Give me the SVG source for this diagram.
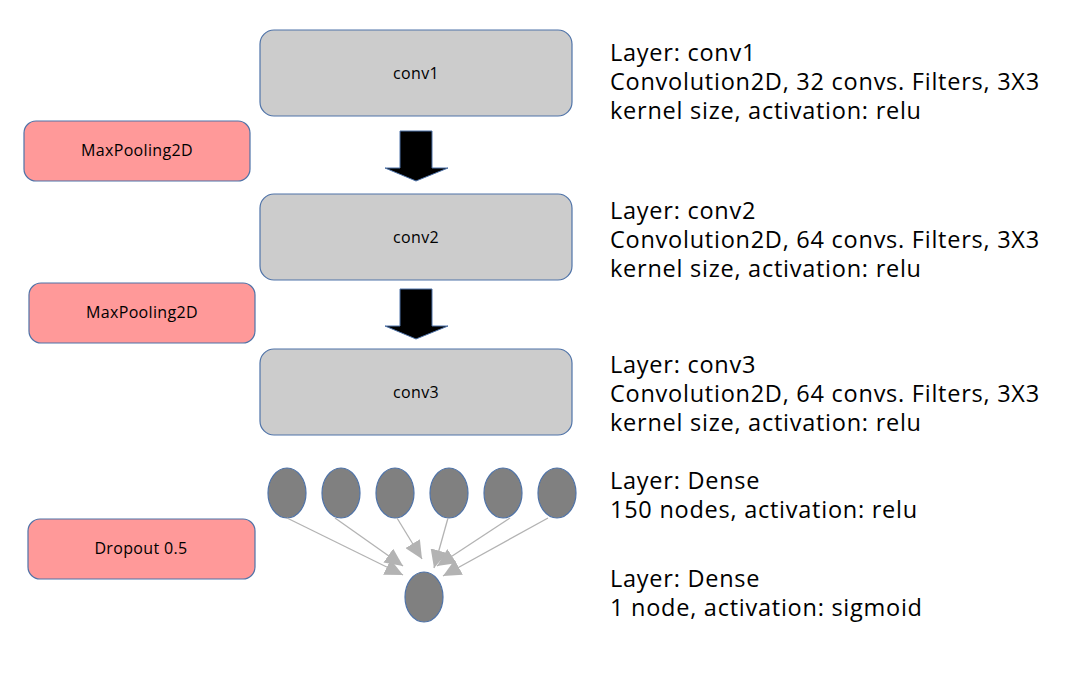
<svg xmlns="http://www.w3.org/2000/svg" width="1087" height="682" viewBox="0 0 1087 682">
<defs>
<style>
.conv{fill:#cccccc;stroke:#4f73a8;stroke-width:1.2}
.op{fill:#ff9999;stroke:#4f73a8;stroke-width:1.2}
.lbl{font-family:"Open Sans","Noto Sans",sans-serif;font-size:16px;letter-spacing:0.35px;fill:#000;text-anchor:middle}
.desc{font-family:"Open Sans","Noto Sans",sans-serif;font-size:23.5px;letter-spacing:0.75px;fill:#000}
.neuron{fill:#808080;stroke:#4f73a8;stroke-width:1.2}
.edge{stroke:#b3b3b3;stroke-width:1.3;fill:none;marker-end:url(#ah)}
.bigarrow{fill:#000;stroke:#4f73a8;stroke-width:1}
</style>
<marker id="ah" viewBox="0 0 10 10" refX="10" refY="5" markerWidth="18" markerHeight="17" markerUnits="userSpaceOnUse" orient="auto" preserveAspectRatio="none">
<path d="M0,0 L10,5 L0,10 z" fill="#b3b3b3"/>
</marker>
</defs>
<rect width="1087" height="682" fill="#fff"/>
<g id="conv1"><rect class="conv" x="260" y="30" width="312" height="86" rx="14"/><text class="lbl" x="416" y="79">conv1</text></g>
<g id="conv2"><rect class="conv" x="260" y="194" width="312" height="86" rx="14"/><text class="lbl" x="416" y="243">conv2</text></g>
<g id="conv3"><rect class="conv" x="260" y="349" width="312" height="86" rx="14"/><text class="lbl" x="416" y="398">conv3</text></g>
<g id="maxpool1"><rect class="op" x="24" y="121" width="226" height="60" rx="12"/><text class="lbl" x="137" y="156">MaxPooling2D</text></g>
<g id="maxpool2"><rect class="op" x="29" y="283" width="226" height="60" rx="12"/><text class="lbl" x="142" y="318">MaxPooling2D</text></g>
<g id="dropout"><rect class="op" x="28" y="519" width="227" height="60" rx="12"/><text class="lbl" x="141" y="554">Dropout 0.5</text></g>
<g id="arrow1"><path class="bigarrow" d="M400,131 H432 V168 H448 L416,181 L385,168 H400 Z"/></g>
<g id="arrow2"><path class="bigarrow" d="M400,289 H432 V326 H448 L416,339 L385,326 H400 Z"/></g>
<g id="dense1">
<ellipse class="neuron" cx="287" cy="493" rx="19" ry="25"/>
<ellipse class="neuron" cx="341" cy="493" rx="19" ry="25"/>
<ellipse class="neuron" cx="395" cy="493" rx="19" ry="25"/>
<ellipse class="neuron" cx="449" cy="493" rx="19" ry="25"/>
<ellipse class="neuron" cx="503" cy="493" rx="19" ry="25"/>
<ellipse class="neuron" cx="557" cy="493" rx="19" ry="25"/>
</g>
<g id="dense2"><ellipse class="neuron" cx="424" cy="597" rx="19" ry="25"/></g>
<g id="connectors">
<line class="edge" x1="287" y1="518" x2="403" y2="575"/>
<line class="edge" x1="335" y1="518" x2="403" y2="566"/>
<line class="edge" x1="397" y1="518" x2="422" y2="559"/>
<line class="edge" x1="448" y1="518" x2="434" y2="568"/>
<line class="edge" x1="510" y1="518" x2="437" y2="566"/>
<line class="edge" x1="548" y1="518" x2="443" y2="576"/>
</g>
<g id="descriptions">
<text class="desc" x="610" y="61">Layer: conv1</text>
<text class="desc" x="610" y="90">Convolution2D, 32 convs. Filters, 3X3</text>
<text class="desc" x="610" y="119">kernel size, activation: relu</text>
<text class="desc" x="610" y="219">Layer: conv2</text>
<text class="desc" x="610" y="248">Convolution2D, 64 convs. Filters, 3X3</text>
<text class="desc" x="610" y="277">kernel size, activation: relu</text>
<text class="desc" x="610" y="373">Layer: conv3</text>
<text class="desc" x="610" y="402">Convolution2D, 64 convs. Filters, 3X3</text>
<text class="desc" x="610" y="431">kernel size, activation: relu</text>
<text class="desc" x="610" y="489">Layer: Dense</text>
<text class="desc" x="610" y="518">150 nodes, activation: relu</text>
<text class="desc" x="610" y="587">Layer: Dense</text>
<text class="desc" x="610" y="616">1 node, activation: sigmoid</text>
</g>
</svg>
